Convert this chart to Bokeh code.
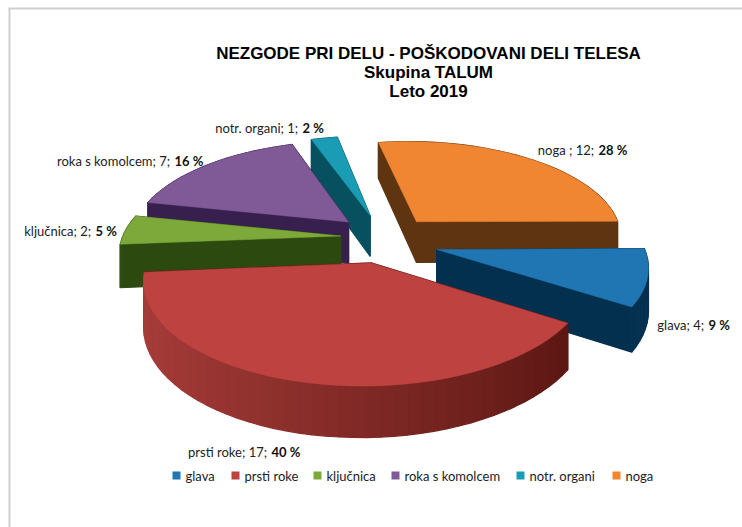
import numpy as np
from bokeh.plotting import figure
from bokeh.core.properties import value
from bokeh.embed import file_html
from bokeh.resources import INLINE

categories = ["glava", "prsti roke", "ključnica", "roka s komolcem", "notr. organi", "noga"]
counts = [4, 17, 2, 7, 1, 12]
percents = ["9 %", "40 %", "5 %", "16 %", "2 %", "28 %"]
label_names = ["glava; 4; ", "prsti roke; 17; ", "ključnica; 2; ", "roka s komolcem; 7; ", "notr. organi; 1; ", "noga ; 12; "]

top_colors = ["#1F76B3", "#BE4340", "#7DA83A", "#7F5A96", "#1A9CB5", "#F08532"]
wall_light = ["#0A3A5E", "#A83D3A", "#2F4E12", "#371F4E", "#07505F", "#5F3410"]
wall_dark = ["#04304F", "#561410", "#2C4A10", "#331C48", "#07505F", "#5F3410"]
cut_colors = ["#04304F", "#561410", "#2C4A10", "#371F4E", "#07505F", "#5F3410"]
draw_order = [5, 4, 3, 2, 0, 1]
explode = [0.26, 0.23, 0.23, 0.23, 0.23, 0.23]
nudge_x = [-2, -2, 4, -1, -3, 1]
nudge_y = [1, -1, -4, -5, -5, -3]

# label anchor positions (reference pixels): split x between plain and bold part, y centre
label_split = [707, 270, 94, 173, 301, 597]
label_y = [324, 451, 230, 160, 127, 149]
legend_x = [176, 235, 317, 395, 520, 616]
legend_y = 475

# pie projection
CX, CY, R, S, K, KX, D = 385, 241, 212, 97, 0.15, 0.02, 42
START = -0.5

W, H = 742, 527
p = figure(width=W, height=H, x_range=(0, W), y_range=(H, 0), output_backend="svg",
           toolbar_location=None, min_border=0, background_fill_color="white",
           border_fill_color="white", outline_line_color=None)
p.axis.visible = False
p.xgrid.visible = False
p.ygrid.visible = False

p.line([8, W], [8, 8], line_color="#CFCFCF", line_width=2)
p.line([9, 9], [8, H], line_color="#CFCFCF", line_width=2)


def proj(u, v, z):
    w = 1 - K * v + KX * u
    return CX + R * u / w, CY + S * v / w + D * z / w


def hexmix(a, b, f):
    ca = [int(a[i:i + 2], 16) for i in (1, 3, 5)]
    cb = [int(b[i:i + 2], 16) for i in (1, 3, 5)]
    return "#%02X%02X%02X" % tuple(int(round(x + (y - x) * f)) for x, y in zip(ca, cb))


total = sum(counts)
angles = np.cumsum([0] + [c / total * 360 for c in counts]) + START

for i in draw_order:
    a0, a1 = angles[i], angles[i + 1]
    mid = np.radians((a0 + a1) / 2)
    ou, ov = explode[i] * np.cos(mid), explode[i] * np.sin(mid)
    n = max(int((a1 - a0) / 3), 3) + 1
    ts = np.linspace(a0, a1, n)
    us = np.r_[ou, ou + np.cos(np.radians(ts))]
    vs = np.r_[ov, ov + np.sin(np.radians(ts))]
    dx, dy = nudge_x[i], nudge_y[i]

    quads = []
    m = len(us)
    for j in range(m):
        k = (j + 1) % m
        xa, ya = proj(us[j], vs[j], 0)
        xb, yb = proj(us[k], vs[k], 0)
        xc, yc = proj(us[k], vs[k], 1)
        xd, yd = proj(us[j], vs[j], 1)
        if j == 0 or k == 0:
            col = cut_colors[i]
        else:
            tm = (ts[j - 1] + ts[k - 1]) / 2
            f = np.clip((np.cos(np.radians(tm)) + 1) / 2, 0, 1)
            col = hexmix(wall_light[i], wall_dark[i], float(f))
        quads.append(((ya + yb + yc + yd) / 4, [xa + dx, xb + dx, xc + dx, xd + dx],
                      [ya + dy, yb + dy, yc + dy, yd + dy], col))
    quads.sort(key=lambda q: q[0])
    p.patches([q[1] for q in quads], [q[2] for q in quads], fill_color=[q[3] for q in quads],
              line_color=[q[3] for q in quads], line_width=1.2)
    tx, ty = proj(us, vs, 0)
    p.patch(list(tx + dx), list(ty + dy), fill_color=top_colors[i], line_color=top_colors[i], line_width=0.5)

TITLE = ["NEZGODE PRI DELU - POŠKODOVANI DELI TELESA", "Skupina TALUM", "Leto 2019"]
p.text([428] * 3, [53, 72, 91], text=TITLE, text_align="center", text_baseline="middle",
       text_font=value("Liberation Sans"), text_font_style="bold", text_font_size="17px", text_color="#000000")

p.text(label_split, label_y, text=label_names, text_align="right", text_baseline="middle",
       text_font=value("Lato"), text_font_size="13px", text_color="#222222")
p.text([x + 1 for x in label_split], label_y, text=percents, text_align="left", text_baseline="middle",
       text_font=value("Lato"), text_font_style="bold", text_font_size="13px", text_color="#111111")

p.scatter(legend_x, [legend_y] * 6, marker="square", size=8, fill_color=top_colors, line_color=None)
p.text([x + 9 for x in legend_x], [legend_y] * 6, text=categories, text_align="left", text_baseline="middle",
       text_font=value("Lato"), text_font_size="13px", text_color="#222222")

open("out.html", "w").write(file_html(p, INLINE))
